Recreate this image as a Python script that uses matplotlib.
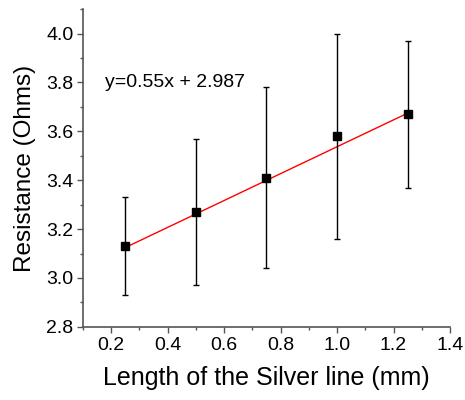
import matplotlib
matplotlib.use("Agg")
import matplotlib.pyplot as plt
from matplotlib.ticker import MultipleLocator

# measured resistance vs. silver line length
length_mm = [0.25, 0.50, 0.75, 1.00, 1.25]
resistance = [3.13, 3.27, 3.41, 3.58, 3.67]
err = [0.20, 0.30, 0.37, 0.42, 0.30]

# linear fit
slope = 0.55
intercept = 2.987
fit_label = "y=0.55x + 2.987"

plt.rcParams['font.family'] = ['Liberation Sans', 'DejaVu Sans']

fig = plt.figure(figsize=(4.65, 4.0), dpi=100)
ax = fig.add_axes([0.1785, 0.183, 0.7892, 0.794])

ax.errorbar(length_mm, resistance, yerr=err, fmt='s', color='black',
            ecolor='black', elinewidth=1.0, capsize=2.5, capthick=1.0,
            markersize=5.5, zorder=3)

x0, x1 = min(length_mm), max(length_mm)
ax.plot([x0, x1], [slope * x0 + intercept, slope * x1 + intercept],
        color='red', linewidth=1.0, zorder=2)

ax.text(0.178, 3.8, fit_label, fontsize=14, ha='left', va='center')

ax.set_xlim(0.1, 1.4)
ax.set_ylim(2.8, 4.1)
ax.xaxis.set_major_locator(MultipleLocator(0.2))
ax.xaxis.set_minor_locator(MultipleLocator(0.1))
ax.yaxis.set_major_locator(MultipleLocator(0.2))
ax.yaxis.set_minor_locator(MultipleLocator(0.1))

for side in ('top', 'right'):
    ax.spines[side].set_visible(False)
for side in ('left', 'bottom'):
    ax.spines[side].set_color('#555555')
    ax.spines[side].set_linewidth(1.2)

ax.tick_params(which='major', direction='out', length=4, width=1.0,
               color='#555555', labelsize=14, pad=3)
ax.tick_params(which='minor', direction='out', length=2.5, width=1.0,
               color='#555555')

ax.set_xlabel('Length of the Silver line (mm)', fontsize=18, labelpad=9)
ax.set_ylabel('Resistance (Ohms)', fontsize=17.5, labelpad=7)

fig.savefig('out.png', dpi=100)
